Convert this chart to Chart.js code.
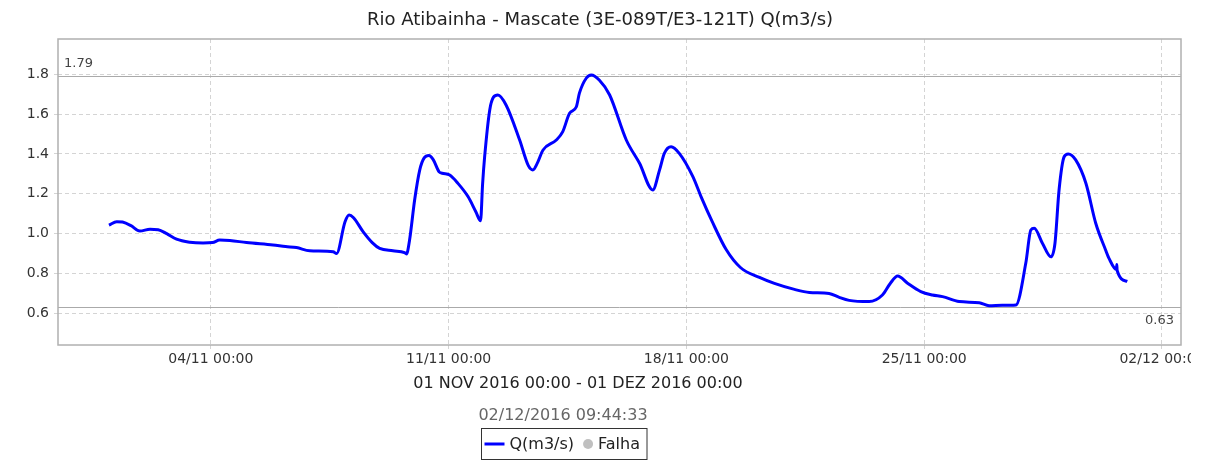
<!DOCTYPE html>
<html>
<head>
<meta charset="utf-8">
<title>Rio Atibainha - Mascate Q(m3/s)</title>
<script src="https://cdn.jsdelivr.net/npm/chart.js@4/dist/chart.umd.min.js"></script>
<style>
  body { margin: 0; background: #fff; }
  #wrap { width: 1191px; height: 460px; position: relative; }
</style>
</head>
<body>
<div id="wrap"><canvas id="vazao"></canvas></div>
<script>
// tempo em dias desde 01/11/2016 00:00
const dias = [
  0.00, 0.23, 0.40, 0.65, 0.91, 1.21, 1.45, 1.70, 1.99, 2.38, 2.77, 3.05, 3.26, 3.56, 4.05, 4.83,
  5.20, 5.52, 5.91, 6.60, 6.70, 6.95, 7.07, 7.20, 7.48, 7.75, 7.97, 8.36, 8.70, 8.76, 8.85, 9.00,
  9.15, 9.28, 9.42, 9.55, 9.72, 9.81, 10.03, 10.27, 10.57, 10.80, 10.94, 11.00, 11.06, 11.21, 11.32,
  11.45, 11.69, 12.09, 12.35, 12.48, 12.60, 12.78, 13.17, 13.36, 13.56, 13.76, 13.85, 14.05, 14.20,
  14.44, 14.74, 15.23, 15.62, 16.01, 16.21, 16.35, 16.55, 16.79, 17.19, 17.43, 17.76, 18.17, 18.59,
  19.15, 19.59, 20.18, 20.62, 21.20, 21.50, 21.79, 22.38, 22.77, 23.00, 23.22, 23.51, 23.90, 24.24,
  24.54, 25.03, 25.62, 25.91, 26.30, 26.70, 26.99, 27.14, 27.24, 27.48, 27.73, 27.85, 27.97, 28.12,
  28.24, 28.46, 28.76, 29.05, 29.34, 29.44, 29.66, 29.67, 29.68, 29.98
];
// vazão Q (m3/s)
const vazao = [
  1.043, 1.060, 1.058, 1.040, 1.013, 1.022, 1.020, 1.000, 0.972, 0.957, 0.953, 0.955, 0.968, 0.966, 0.955, 0.943,
  0.935, 0.930, 0.914, 0.909, 0.900, 1.060, 1.094, 1.080, 1.010, 0.955, 0.926, 0.914, 0.905, 0.898, 0.968, 1.170,
  1.320, 1.380, 1.392, 1.370, 1.310, 1.303, 1.294, 1.253, 1.186, 1.110, 1.065, 1.250, 1.386, 1.621, 1.685,
  1.696, 1.646, 1.470, 1.340, 1.320, 1.350, 1.420, 1.470, 1.512, 1.604, 1.637, 1.705, 1.780, 1.796,
  1.770, 1.696, 1.470, 1.353, 1.219, 1.320, 1.403, 1.436, 1.403, 1.286, 1.186, 1.060, 0.920, 0.830,
  0.780, 0.750, 0.720, 0.705, 0.700, 0.680, 0.665, 0.659, 0.692, 0.750, 0.787, 0.751, 0.709, 0.692,
  0.684, 0.659, 0.653, 0.638, 0.640, 0.642, 0.851, 1.018, 1.027, 0.952, 0.884, 0.952, 1.219, 1.386,
  1.400, 1.370, 1.253, 1.052, 0.918, 0.876, 0.820, 0.845, 0.815, 0.760
];

const xTicks = [3, 10, 17, 24, 31];
const xTickLabels = ['04/11 00:00', '11/11 00:00', '18/11 00:00', '25/11 00:00', '02/12 00:00'];
const yTicks = [0.6, 0.8, 1.0, 1.2, 1.4, 1.6, 1.8];
const marcas = [1.79, 0.63]; // máximo / mínimo

const titulo = 'Rio Atibainha - Mascate (3E-089T/E3-121T) Q(m3/s)';
const periodo = '01 NOV 2016 00:00 - 01 DEZ 2016 00:00';
const geradoEm = '02/12/2016 09:44:33';
const serieNome = 'Q(m3/s)';
const falhaNome = 'Falha';

const FONTE = '"DejaVu Sans", sans-serif';
const AZUL = '#0000ff';
const CINZA_FALHA = '#c0c0c0';

// linhas de max/min, moldura, textos e legenda
const decoracao = {
  id: 'decoracao',
  beforeDatasetsDraw(chart) {
    const { ctx, chartArea: a, scales: { y } } = chart;
    ctx.save();
    ctx.strokeStyle = '#aaaaaa';
    ctx.lineWidth = 1;
    marcas.forEach(v => {
      const py = Math.round(y.getPixelForValue(v)) + 0.5;
      ctx.beginPath();
      ctx.moveTo(a.left, py);
      ctx.lineTo(a.right, py);
      ctx.stroke();
    });
    ctx.font = '13px ' + FONTE;
    ctx.fillStyle = '#444';
    ctx.textAlign = 'left';
    ctx.textBaseline = 'alphabetic';
    ctx.fillText(marcas[0].toFixed(2), a.left + 6, y.getPixelForValue(marcas[0]) - 9);
    ctx.textAlign = 'right';
    ctx.fillText(marcas[1].toFixed(2), a.right - 7, y.getPixelForValue(marcas[1]) + 17);
    ctx.restore();
  },
  afterDraw(chart) {
    const { ctx, chartArea: a } = chart;
    ctx.save();
    // moldura
    ctx.strokeStyle = '#b0b0b0';
    ctx.lineWidth = 1.5;
    ctx.strokeRect(a.left, a.top, a.right - a.left, a.bottom - a.top);

    // título
    ctx.textAlign = 'center';
    ctx.textBaseline = 'middle';
    ctx.fillStyle = '#222';
    ctx.font = '18px ' + FONTE;
    ctx.fillText(titulo, 600, 20);

    // período e data de geração
    ctx.font = '16px ' + FONTE;
    ctx.fillStyle = '#222';
    ctx.fillText(periodo, 578, 384);
    ctx.fillStyle = '#666';
    ctx.fillText(geradoEm, 563, 416);

    // legenda
    const d = chart.data.datasets;
    ctx.font = '16px ' + FONTE;
    const w1 = ctx.measureText(d[0].label).width;
    const w2 = ctx.measureText(d[1].label).width;
    const largura = 3 + 20 + 5 + w1 + 9 + 10 + 5 + w2 + 7;
    const x0 = Math.round(563.5 - largura / 2) + 0.5;
    const yTop = 428.5, yMeio = 444;
    ctx.strokeStyle = '#333';
    ctx.lineWidth = 1;
    ctx.strokeRect(x0, yTop, largura, 31);
    let x = x0 + 3;
    ctx.strokeStyle = d[0].borderColor;
    ctx.lineWidth = 3;
    ctx.beginPath();
    ctx.moveTo(x, yMeio);
    ctx.lineTo(x + 20, yMeio);
    ctx.stroke();
    x += 25;
    ctx.textAlign = 'left';
    ctx.fillStyle = '#222';
    ctx.fillText(d[0].label, x, yMeio + 1);
    x += w1 + 9;
    ctx.fillStyle = d[1].backgroundColor;
    ctx.beginPath();
    ctx.arc(x + 5, yMeio, 5, 0, Math.PI * 2);
    ctx.fill();
    x += 15;
    ctx.fillStyle = '#222';
    ctx.fillText(d[1].label, x, yMeio + 1);
    ctx.restore();
  }
};

new Chart(document.getElementById('vazao'), {
  type: 'line',
  data: {
    datasets: [{
      label: serieNome,
      data: dias.map((t, i) => ({ x: t, y: vazao[i] })),
      borderColor: AZUL,
      borderWidth: 3,
      pointRadius: 0,
      cubicInterpolationMode: 'monotone',
      fill: false
    }, {
      label: falhaNome,
      data: [],
      borderColor: CINZA_FALHA,
      backgroundColor: CINZA_FALHA,
      showLine: false
    }]
  },
  options: {
    responsive: true,
    maintainAspectRatio: false,
    animation: false,
    layout: { padding: { top: 39, right: 10, bottom: 0, left: 0 } },
    plugins: {
      legend: { display: false },
      title: { display: false },
      tooltip: { enabled: false }
    },
    scales: {
      x: {
        type: 'linear',
        min: -1.5,
        max: 31.56,
        afterBuildTicks: s => { s.ticks = xTicks.map(v => ({ value: v })); },
        afterFit: s => { s.height = 115; s.paddingLeft = 0; s.paddingRight = 0; },
        grid: { color: '#d4d4d4', lineWidth: 1, tickLength: 4 },
        border: { display: false, dash: [4, 3] },
        ticks: {
          autoSkip: false,
          maxRotation: 0,
          padding: 2,
          color: '#333',
          font: { family: FONTE, size: 14 },
          callback: (v, i) => xTickLabels[i]
        }
      },
      y: {
        type: 'linear',
        min: 0.441,
        max: 1.977,
        afterBuildTicks: s => { s.ticks = yTicks.map(v => ({ value: v })); },
        afterFit: s => { s.width = 58; s.paddingTop = 0; s.paddingBottom = 0; },
        grid: { color: '#d4d4d4', lineWidth: 1, tickLength: 4 },
        border: { display: false, dash: [4, 3] },
        ticks: {
          padding: 5,
          color: '#333',
          font: { family: FONTE, size: 14 },
          callback: v => v.toFixed(1)
        }
      }
    }
  },
  plugins: [decoracao]
});
</script>
</body>
</html>
